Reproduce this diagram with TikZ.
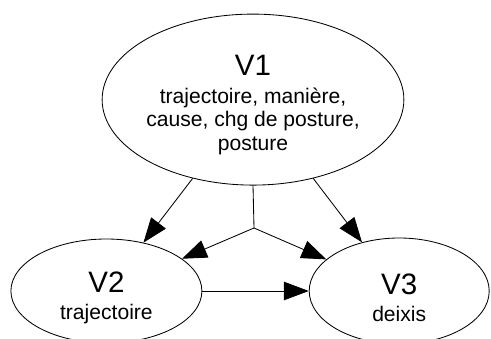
\documentclass[tikz,border=0pt]{standalone}
\usepackage{fontspec}
\setmainfont{Liberation Sans}
\usetikzlibrary{shapes.geometric,arrows.meta}

\begin{document}
\begin{tikzpicture}[every node/.style={align=center, font=\fontsize{15}{16.6}\selectfont},
    var/.style={draw, ellipse, inner sep=0pt, line width=0.6pt},
    link/.style={line width=0.6pt, -{Triangle[length=0.62cm, width=0.46cm]}}]
      \useasboundingbox (0,0) rectangle (12.275,8.45);

      % V1 - top
      \node (v1) [var, minimum width=7.35cm, minimum height=4.275cm] at (6.325, 5.96)
        {{\fontsize{21}{16}\selectfont\rule{0pt}{22pt}V1}\\[3.4pt] trajectoire, manière,\\ cause, chg de posture,\\ posture};

      % V2 and V3 - bottom
      \node (v2) [var, minimum width=4.775cm, minimum height=2.6cm] at (2.66, 1.175)
        {{\fontsize{21}{16}\selectfont\rule{0pt}{25pt}V2}\\[2.6pt] trajectoire};
      \node (v3) [var, minimum width=4.5cm, minimum height=2.65cm] at (9.98, 1.175)
        {{\fontsize{21}{16}\selectfont\rule{0pt}{25pt}V3}\\[2.6pt] deixis};

      % Arrows
      \coordinate (fork) at (6.35, 2.75);
      \draw[line width=0.6pt] (v1.south) -- (fork);
      \draw[link] (fork) -- (v2);
      \draw[link] (fork) -- (v3);
      \draw[link] (v1) -- (v2);
      \draw[link] (v1) -- (v3);
      \draw[link] (v2) -- (v3);

    \end{tikzpicture}
\end{document}
